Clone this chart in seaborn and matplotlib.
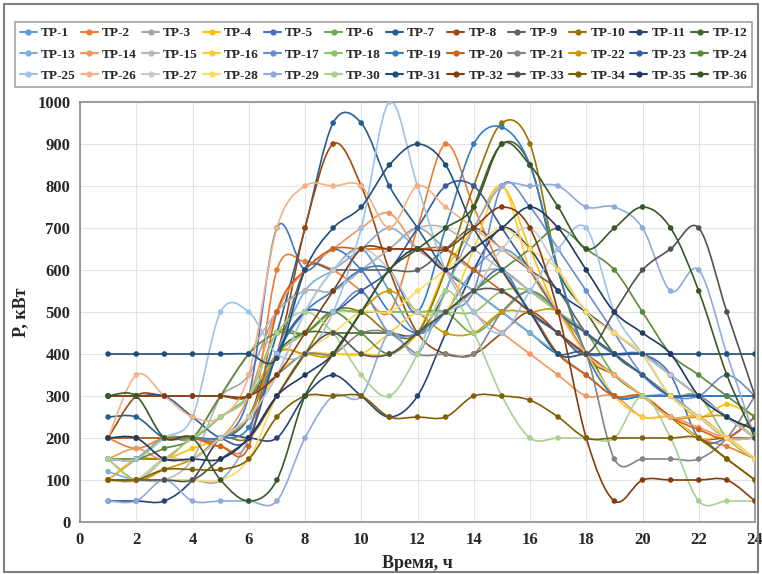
import numpy as np
import pandas as pd
import matplotlib
matplotlib.use('Agg')
import matplotlib.pyplot as plt
from matplotlib.path import Path
from matplotlib.patches import PathPatch, Rectangle
from matplotlib.lines import Line2D
import seaborn as sns

# Hours of the day
hours = list(range(1, 25))

# Load profiles, kW
tp1 = [100, 100, 150, 150, 200, 250, 350, 500, 600, 650, 550, 450, 500, 600, 650, 600, 500, 450, 400, 400, 350, 300, 250, 200]
tp2 = [200, 175, 200, 200, 180, 200, 600, 620, 600, 550, 500, 700, 900, 750, 600, 500, 400, 350, 300, 300, 250, 200, 180, 150]
tp3 = [100, 150, 200, 200, 300, 350, 500, 550, 550, 600, 650, 700, 650, 600, 600, 550, 500, 450, 400, 350, 300, 250, 200, 150]
tp4 = [100, 150, 150, 175, 200, 250, 400, 400, 400, 400, 400, 450, 600, 700, 800, 650, 500, 450, 400, 350, 300, 250, 280, 250]
tp5 = [150, 150, 200, 200, 200, 300, 700, 600, 650, 600, 500, 450, 500, 550, 600, 500, 450, 400, 400, 400, 350, 200, 200, 250]
tp6 = [150, 150, 200, 200, 250, 300, 450, 450, 500, 500, 500, 500, 500, 450, 500, 550, 500, 450, 350, 300, 250, 250, 200, 150]
tp7 = [250, 250, 200, 200, 200, 250, 450, 700, 950, 950, 800, 700, 600, 550, 500, 450, 400, 400, 300, 300, 300, 300, 300, 300]
tp8 = [200, 300, 300, 300, 300, 300, 400, 700, 900, 800, 600, 450, 400, 400, 450, 500, 450, 400, 350, 300, 250, 200, 200, 200]
tp9 = [200, 200, 200, 200, 250, 300, 400, 600, 600, 600, 600, 600, 650, 700, 650, 600, 550, 450, 400, 350, 300, 250, 200, 150]
tp10 = [150, 150, 150, 150, 200, 200, 300, 400, 500, 500, 450, 450, 600, 800, 950, 900, 600, 400, 350, 300, 250, 200, 150, 100]
tp11 = [50, 50, 50, 100, 200, 200, 200, 300, 350, 300, 250, 300, 450, 600, 700, 650, 550, 500, 450, 400, 350, 300, 250, 200]
tp12 = [200, 200, 200, 200, 200, 250, 400, 450, 450, 450, 450, 450, 550, 750, 900, 850, 600, 500, 400, 350, 300, 250, 200, 150]
tp13 = [120, 100, 100, 100, 100, 200, 400, 550, 600, 650, 700, 650, 600, 550, 500, 450, 400, 350, 300, 300, 300, 250, 200, 200]
tp14 = [150, 175, 150, 200, 200, 300, 500, 600, 650, 700, 735, 650, 600, 500, 450, 400, 350, 300, 300, 250, 250, 225, 200, 200]
tp15 = [100, 100, 100, 150, 300, 400, 500, 550, 550, 600, 650, 700, 700, 650, 600, 550, 500, 450, 400, 350, 300, 250, 200, 200]
tp16 = [100, 100, 150, 150, 200, 250, 350, 400, 400, 400, 450, 500, 500, 650, 800, 600, 500, 400, 300, 250, 250, 200, 200, 150]
tp17 = [200, 200, 200, 200, 200, 250, 400, 500, 500, 550, 450, 450, 500, 550, 800, 750, 650, 550, 450, 350, 300, 300, 350, 300]
tp18 = [150, 150, 200, 200, 250, 300, 400, 450, 500, 500, 500, 500, 500, 500, 550, 550, 500, 450, 400, 350, 300, 300, 200, 150]
tp19 = [200, 200, 200, 200, 200, 225, 400, 500, 550, 600, 600, 500, 700, 900, 940, 850, 600, 400, 300, 300, 300, 300, 300, 300]
tp20 = [200, 200, 200, 200, 180, 180, 500, 600, 650, 650, 650, 650, 650, 600, 550, 500, 400, 350, 300, 300, 250, 220, 200, 250]
tp21 = [300, 300, 300, 300, 300, 300, 350, 400, 400, 450, 450, 400, 400, 400, 500, 550, 500, 400, 150, 150, 150, 150, 200, 300]
tp22 = [150, 100, 125, 150, 200, 250, 400, 400, 400, 500, 550, 500, 450, 450, 500, 500, 500, 400, 350, 300, 250, 250, 250, 200]
tp23 = [300, 300, 300, 250, 200, 200, 400, 500, 500, 550, 600, 700, 800, 800, 700, 600, 500, 450, 400, 350, 300, 300, 250, 220]
tp24 = [150, 150, 175, 200, 300, 400, 450, 450, 500, 450, 400, 450, 500, 550, 600, 650, 700, 650, 600, 500, 400, 350, 300, 250]
tp25 = [150, 150, 200, 250, 500, 500, 400, 400, 500, 700, 1000, 800, 600, 500, 450, 550, 650, 700, 500, 400, 300, 250, 200, 150]
tp26 = [200, 350, 300, 250, 250, 350, 700, 800, 800, 800, 700, 800, 750, 700, 650, 600, 500, 400, 350, 300, 250, 250, 200, 150]
tp27 = [100, 100, 150, 150, 200, 250, 350, 500, 600, 650, 600, 500, 500, 550, 650, 700, 600, 500, 450, 400, 350, 300, 250, 200]
tp28 = [100, 100, 100, 100, 100, 150, 300, 400, 450, 500, 500, 550, 600, 650, 700, 650, 600, 500, 450, 400, 300, 250, 200, 150]
tp29 = [50, 50, 100, 50, 50, 50, 50, 200, 300, 300, 450, 400, 550, 700, 800, 800, 800, 750, 750, 700, 550, 600, 400, 200]
tp30 = [150, 100, 150, 200, 250, 300, 450, 500, 450, 350, 300, 400, 550, 450, 300, 200, 200, 200, 200, 300, 200, 50, 50, 50]
tp31 = [400, 400, 400, 400, 400, 400, 390, 600, 700, 750, 850, 900, 850, 700, 600, 500, 400, 400, 400, 400, 400, 400, 400, 400]
tp32 = [300, 300, 300, 300, 300, 300, 350, 450, 550, 650, 650, 650, 650, 700, 750, 700, 500, 200, 50, 100, 100, 100, 100, 50]
tp33 = [100, 100, 100, 100, 150, 200, 300, 400, 450, 400, 400, 450, 500, 550, 550, 500, 450, 400, 500, 600, 650, 700, 500, 300]
tp34 = [100, 100, 125, 125, 125, 150, 250, 300, 300, 300, 250, 250, 250, 300, 300, 290, 250, 200, 200, 200, 200, 200, 150, 100]
tp35 = [200, 200, 150, 150, 150, 200, 300, 350, 400, 500, 600, 650, 600, 650, 700, 750, 700, 600, 500, 450, 400, 300, 250, 220]
tp36 = [300, 300, 200, 200, 100, 50, 100, 300, 400, 500, 600, 650, 700, 750, 900, 850, 750, 650, 700, 750, 700, 550, 350, 200]

series = [tp1, tp2, tp3, tp4, tp5, tp6, tp7, tp8, tp9, tp10, tp11, tp12,
          tp13, tp14, tp15, tp16, tp17, tp18, tp19, tp20, tp21, tp22, tp23, tp24,
          tp25, tp26, tp27, tp28, tp29, tp30, tp31, tp32, tp33, tp34, tp35, tp36]
names = ['TP-%d' % (i + 1) for i in range(len(series))]

# Excel-like series colours
colors = ['#5B9BD5', '#ED7D31', '#A5A5A5', '#FFC000', '#4472C4', '#70AD47',
          '#255E91', '#9E480E', '#636363', '#997300', '#264478', '#43682B',
          '#7CAFDD', '#F1975A', '#B7B7B7', '#FFCD33', '#698ED0', '#8CC168',
          '#327DC2', '#D26012', '#848484', '#CC9A00', '#335AA1', '#5A8A39',
          '#9DC3E6', '#F4B183', '#C9C9C9', '#FFD966', '#8FAADC', '#A9D18E',
          '#1F4E79', '#843C0C', '#525252', '#7F6000', '#203864', '#385723']

df = pd.DataFrame({
    'hour': hours * len(series),
    'P': [v for s in series for v in s],
    'TP': [n for n in names for _ in hours],
})

sns.set_style('white')
plt.rcParams['font.family'] = ['Liberation Serif', 'DejaVu Serif']
plt.rcParams['font.weight'] = 'bold'

fig = plt.figure(figsize=(7.62, 5.74), dpi=100)
ax = fig.add_axes([80 / 762, 1 - 522 / 574, 675 / 762, 420 / 574])


def smooth_path(x, y):
    # Catmull-Rom style bezier, like Excel's smoothed line
    n = len(x)
    verts = [(x[0], y[0])]
    codes = [Path.MOVETO]
    for i in range(n - 1):
        a = max(i - 1, 0)
        d = min(i + 2, n - 1)
        c1 = (x[i] + (x[i + 1] - x[a]) / 6, y[i] + (y[i + 1] - y[a]) / 6)
        c2 = (x[i + 1] - (x[d] - x[i]) / 6, y[i + 1] - (y[d] - y[i]) / 6)
        verts += [c1, c2, (x[i + 1], y[i + 1])]
        codes += [Path.CURVE4] * 3
    return Path(verts, codes)


for s, c in zip(series, colors):
    ax.add_patch(PathPatch(smooth_path(hours, s), facecolor='none', edgecolor=c,
                           lw=1.2, zorder=2))

sns.scatterplot(data=df, x='hour', y='P', hue='TP', palette=colors, s=16,
                linewidth=0, legend=False, ax=ax, zorder=3)

ax.set_xlim(0, 24)
ax.set_ylim(0, 1000)
ax.set_xticks(range(0, 25, 2))
ax.set_yticks(range(0, 1001, 100))
ax.grid(True, color='#E3E3E3', lw=0.8)
ax.set_axisbelow(True)
for sp in ax.spines.values():
    sp.set_color('#8C8C8C')
    sp.set_linewidth(1.2)
ax.tick_params(length=0, labelsize=12, pad=7)
for lab in ax.get_xticklabels() + ax.get_yticklabels():
    lab.set_fontweight('bold')
ax.set_xlabel('Время, ч', fontsize=13, fontweight='bold', labelpad=5)
ax.set_ylabel('P, кВт', fontsize=13, fontweight='bold', labelpad=6)

# legend is filled column by column, so reorder to read row by row
ncol, nrow = 12, 3
order = [r * ncol + c for c in range(ncol) for r in range(nrow)]
handles = [Line2D([0], [0], color=colors[i], lw=1.5, marker='o', markersize=3.5) for i in order]
labels = [names[i] for i in order]
leg = fig.legend(handles, labels, ncol=ncol, loc='lower left', mode='expand',
                 bbox_to_anchor=(12 / 762, 1 - 90 / 574, 743 / 762, 77 / 574),
                 prop={'size': 9.5, 'weight': 'bold'}, handlelength=1.3,
                 handletextpad=0.3, columnspacing=0.4, borderaxespad=0.2,
                 labelspacing=0.7, fancybox=False, edgecolor='#8C8C8C')
leg.get_frame().set_linewidth(1.2)

fig.patches.append(Rectangle((4 / 762, 2 / 574), 754 / 762, 568 / 574,
                             transform=fig.transFigure, fill=False,
                             edgecolor='#7F7F7F', lw=1.5))

fig.savefig('out.png', dpi=100)
